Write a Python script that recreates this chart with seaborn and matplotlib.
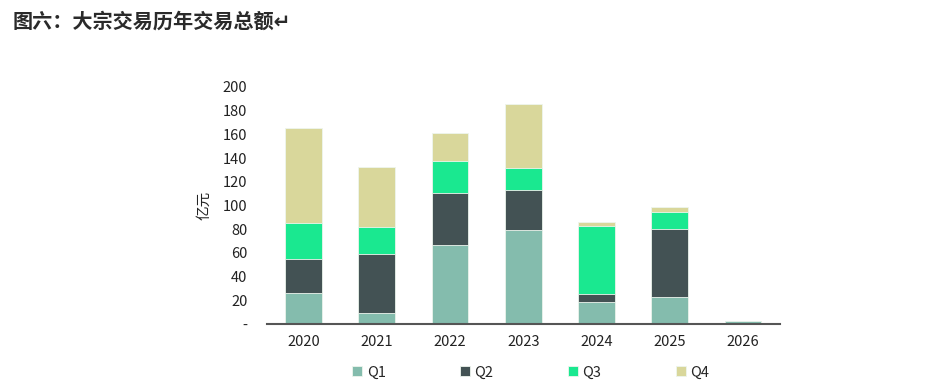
import matplotlib
matplotlib.use("Agg")
import matplotlib.pyplot as plt
import seaborn as sns
import pandas as pd
import numpy as np

# 数据：各年分季度大宗交易金额（亿元）
years = ["2020", "2021", "2022", "2023", "2024", "2025", "2026"]
q1 = [26.0, 9.6, 66.7, 79.3, 18.8, 23.0, 2.5]
q2 = [28.6, 49.7, 43.8, 33.7, 6.8, 57.4, 0.0]
q3 = [30.4, 22.8, 26.8, 18.4, 57.1, 13.8, 0.0]
q4 = [80.4, 50.1, 24.1, 54.2, 3.6, 4.2, 0.0]
quarters = ["Q1", "Q2", "Q3", "Q4"]
colors = ["#84BCAD", "#435254", "#1AE890", "#D9D79B"]
yticks = [0, 20, 40, 60, 80, 100, 120, 140, 160, 180, 200]

sns.set_style("white")
plt.rcParams['font.family'] = ['Noto Sans CJK SC', 'DejaVu Sans']

df = pd.DataFrame({"year": years, "Q1": q1, "Q2": q2, "Q3": q3, "Q4": q4})
cum = df[quarters].cumsum(axis=1)

fig = plt.figure(figsize=(9.36, 3.9), dpi=100)
ax = fig.add_axes([0.285, 0.169, 0.548, 0.608])

# 堆叠：从累计最高的一层开始画，后画的覆盖下面
for q, c in zip(reversed(quarters), reversed(colors)):
    sns.barplot(x=df["year"], y=cum[q], color=c, width=0.5, ax=ax,
                saturation=1, label=q, linewidth=0.6, edgecolor="#EEF5EE")

ax.set_ylim(0, 200)
ax.set_xlim(-0.5, 6.5)
ax.set_yticks(yticks)
ax.set_yticklabels(["-"] + [str(v) for v in yticks[1:]], fontsize=10.5, color="#222222")
ax.tick_params(axis="x", labelsize=10.5, colors="#222222", length=0, pad=8)
ax.tick_params(axis="y", length=0, pad=14)
ax.set_xlabel("")
ax.set_ylabel("亿元", fontsize=10.5, color="#222222", labelpad=8)
for s in ["top", "right", "left"]:
    ax.spines[s].set_visible(False)
ax.spines["bottom"].set_color("#555555")
ax.spines["bottom"].set_linewidth(1.5)

# 图例按 Q1..Q4 顺序
handles, labels = ax.get_legend_handles_labels()
order = [labels.index(q) for q in quarters]
fig.legend([handles[i] for i in order], quarters, loc="center",
           bbox_to_anchor=(0.567, 0.045), ncol=4, frameon=False,
           fontsize=10.5, handlelength=0.7, handleheight=0.7,
           handletextpad=0.3, columnspacing=5.1)
if ax.get_legend() is not None:
    ax.get_legend().remove()

fig.text(0.013, 0.945, "图六：大宗交易历年交易总额↵", fontsize=14.5,
         fontweight="bold", color="#2a2a2a", va="center")

fig.savefig("out.png", dpi=100)
